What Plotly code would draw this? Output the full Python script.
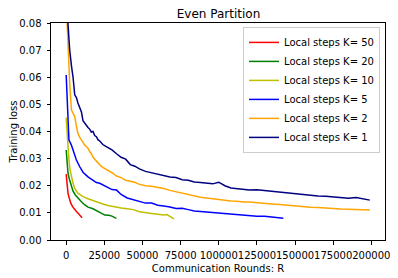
import plotly.graph_objects as go

# ---- data ----
k50_x = [0, 600, 1200, 2000, 3000, 4300, 5600, 6700, 7800, 9000, 10400]
k50_y = [0.0243, 0.0200, 0.0172, 0.0155, 0.0136, 0.0122, 0.0110, 0.0105, 0.0099, 0.0092, 0.0082]

k20_x = [0, 1200, 2300, 3400, 4500, 6000, 8000, 10000, 12000, 14300, 17600, 20900, 23000, 25300, 28000, 30000, 32900]
k20_y = [0.0332, 0.0246, 0.0220, 0.0197, 0.0180, 0.0166, 0.0152, 0.0141, 0.0130, 0.0121, 0.0115, 0.0104, 0.0097, 0.0092, 0.0091, 0.0088, 0.0080]

k10_x = [0, 600, 1200, 1800, 2500, 3400, 4500, 5600, 6700, 7700, 8900, 11000, 14300, 17600, 20900, 24000, 27400,
         30000, 33000, 36000, 40000, 44000, 48000, 52000, 56000, 60000, 64000, 66000, 68000, 70700]
k10_y = [0.0451, 0.0380, 0.0330, 0.0295, 0.0260, 0.0230, 0.0209, 0.0190, 0.0178, 0.0172, 0.0168, 0.0160, 0.0152,
         0.0145, 0.0137, 0.0133, 0.0127, 0.0124, 0.0120, 0.0118, 0.0115, 0.0112, 0.0104, 0.0100, 0.0098, 0.0095,
         0.0092, 0.0094, 0.0086, 0.0078]

k5_x = [0, 600, 1200, 1800, 3400, 5600, 6700, 8900, 11000, 14300, 17600, 19800, 22000, 25000, 27400, 30000, 33000,
        36000, 40000, 44000, 48000, 52000, 56000, 60000, 64000, 68000, 72000, 76000, 80000, 84000, 88000, 92000,
        96000, 100000, 104000, 108000, 112000, 116000, 120000, 125000, 130000, 135000, 140000, 142300]
k5_y = [0.0608, 0.0500, 0.0400, 0.0369, 0.0350, 0.0307, 0.0295, 0.0270, 0.0250, 0.0233, 0.0222, 0.0212, 0.0209,
        0.0200, 0.0191, 0.0186, 0.0184, 0.0168, 0.0155, 0.0148, 0.0142, 0.0136, 0.0136, 0.0128, 0.0125, 0.0122,
        0.0116, 0.0117, 0.0112, 0.0107, 0.0105, 0.0103, 0.0102, 0.0100, 0.0098, 0.0096, 0.0093, 0.0090, 0.0089,
        0.0088, 0.0088, 0.0085, 0.0084, 0.0080]

k2_x = [0, 1200, 2300, 3400, 4500, 5600, 6700, 7700, 8900, 10000, 11000, 12100, 13200, 14300, 15500, 16500, 17600,
        18700, 19800, 20900, 22000, 24000, 26000, 28000, 30000, 33000, 36000, 39000, 42000, 45000, 48000, 52000,
        56000, 60000, 64000, 68000, 72000, 76000, 80000, 84000, 88000, 92000, 96000, 100000, 104000, 108000,
        112000, 116000, 120000, 125000, 130000, 135000, 140000, 145000, 150000, 155000, 160000, 165000, 170000,
        175000, 180000, 185000, 190000, 195000, 199000]
k2_y = [0.0880, 0.0700, 0.0580, 0.0480, 0.0465, 0.0455, 0.0420, 0.0393, 0.0378, 0.0370, 0.0360, 0.0350, 0.0345,
        0.0338, 0.0325, 0.0318, 0.0305, 0.0298, 0.0289, 0.0283, 0.0277, 0.0268, 0.0262, 0.0255, 0.0248, 0.0236,
        0.0230, 0.0220, 0.0217, 0.0213, 0.0205, 0.0200, 0.0198, 0.0195, 0.0190, 0.0183, 0.0178, 0.0172, 0.0168,
        0.0162, 0.0158, 0.0155, 0.0152, 0.0148, 0.0146, 0.0144, 0.0143, 0.0140, 0.0140, 0.0137, 0.0134, 0.0133,
        0.0131, 0.0128, 0.0126, 0.0123, 0.0121, 0.0120, 0.0117, 0.0116, 0.0114, 0.0113, 0.0112, 0.0110, 0.0111]

k1_x = [0, 1000, 2300, 3500, 4500, 5600, 6700, 7700, 8900, 10000, 11000, 12100, 13200, 14300, 15500, 16500, 17600,
        18700, 19800, 20900, 22000, 24000, 26000, 28000, 30000, 33000, 36000, 39000, 42000, 45000, 48000, 52000,
        56000, 60000, 64000, 68000, 72000, 76000, 80000, 84000, 88000, 92000, 96000, 100000, 104000, 108000,
        112000, 116000, 120000, 125000, 130000, 135000, 140000, 145000, 150000, 155000, 160000, 165000, 170000,
        175000, 180000, 185000, 190000, 195000, 199000]
k1_y = [0.0900, 0.0790, 0.0700, 0.0640, 0.0600, 0.0535, 0.0525, 0.0505, 0.0490, 0.0472, 0.0440, 0.0430, 0.0424,
        0.0415, 0.0408, 0.0398, 0.0400, 0.0385, 0.0381, 0.0369, 0.0365, 0.0352, 0.0345, 0.0338, 0.0332, 0.0318,
        0.0305, 0.0298, 0.0278, 0.0272, 0.0262, 0.0253, 0.0248, 0.0244, 0.0238, 0.0232, 0.0230, 0.0222, 0.0220,
        0.0214, 0.0212, 0.0210, 0.0207, 0.0213, 0.0200, 0.0192, 0.0190, 0.0186, 0.0184, 0.0185, 0.0182, 0.0178,
        0.0177, 0.0172, 0.0169, 0.0166, 0.0164, 0.0162, 0.0161, 0.0159, 0.0157, 0.0154, 0.0157, 0.0153, 0.0147]

series = [
    ("Local steps K= 50", k50_x, k50_y, "#ff0000"),
    ("Local steps K= 20", k20_x, k20_y, "#008000"),
    ("Local steps K= 10", k10_x, k10_y, "#bfbf00"),
    ("Local steps K= 5", k5_x, k5_y, "#0000ff"),
    ("Local steps K= 2", k2_x, k2_y, "#ffa500"),
    ("Local steps K= 1", k1_x, k1_y, "#000080"),
]

x_ticks = [0, 25000, 50000, 75000, 100000, 125000, 150000, 175000, 200000]
y_ticks = [0.00, 0.01, 0.02, 0.03, 0.04, 0.05, 0.06, 0.07, 0.08]

fig = go.Figure()
for name, xs, ys, color in series:
    fig.add_trace(go.Scatter(x=xs, y=ys, mode="lines", name=name,
                             line=dict(color=color, width=1.5)))

# the page body adds an 8px offset, so the figure is 8px smaller and its
# left/top margins are 8px smaller
W, H = 390, 270
font_family = "DejaVu Sans"
fig.update_layout(
    width=W, height=H,
    margin=dict(l=43, r=13, t=15, b=38, autoexpand=False),
    paper_bgcolor="white", plot_bgcolor="white",
    font=dict(family=font_family, size=10, color="#000000"),
    title=dict(text="Even Partition", x=(218.5 - 8) / W, xanchor="center", y=1 - 5.5 / H,
               yref="container", yanchor="middle",
               font=dict(size=12, family=font_family, color="#000000")),
    showlegend=True,
    legend=dict(x=0.985, y=0.982, xanchor="right", yanchor="top",
                bgcolor="rgba(255,255,255,0.8)", bordercolor="#cccccc", borderwidth=1,
                font=dict(size=10, family=font_family), tracegroupgap=0),
)
fig.update_xaxes(range=[-9950, 208950], tickvals=x_ticks, ticktext=[str(v) for v in x_ticks],
                 tickangle=0, automargin=False, ticklabelstandoff=2,
                 showgrid=False, zeroline=False, showline=True, linecolor="black", linewidth=1,
                 mirror=True, ticks="outside", ticklen=3.5, tickcolor="black",
                 title=dict(text="Communication Rounds: R", standoff=5, font=dict(size=10)))
fig.update_yaxes(range=[0, 0.08], tickvals=y_ticks, ticktext=["%.2f" % v for v in y_ticks],
                 automargin=False, ticklabelstandoff=3,
                 showgrid=False, zeroline=False, showline=True, linecolor="black", linewidth=1,
                 mirror=True, ticks="outside", ticklen=3.5, tickcolor="black",
                 title=dict(text="Training loss", standoff=6, font=dict(size=10)))

fig.write_html("out.html")
